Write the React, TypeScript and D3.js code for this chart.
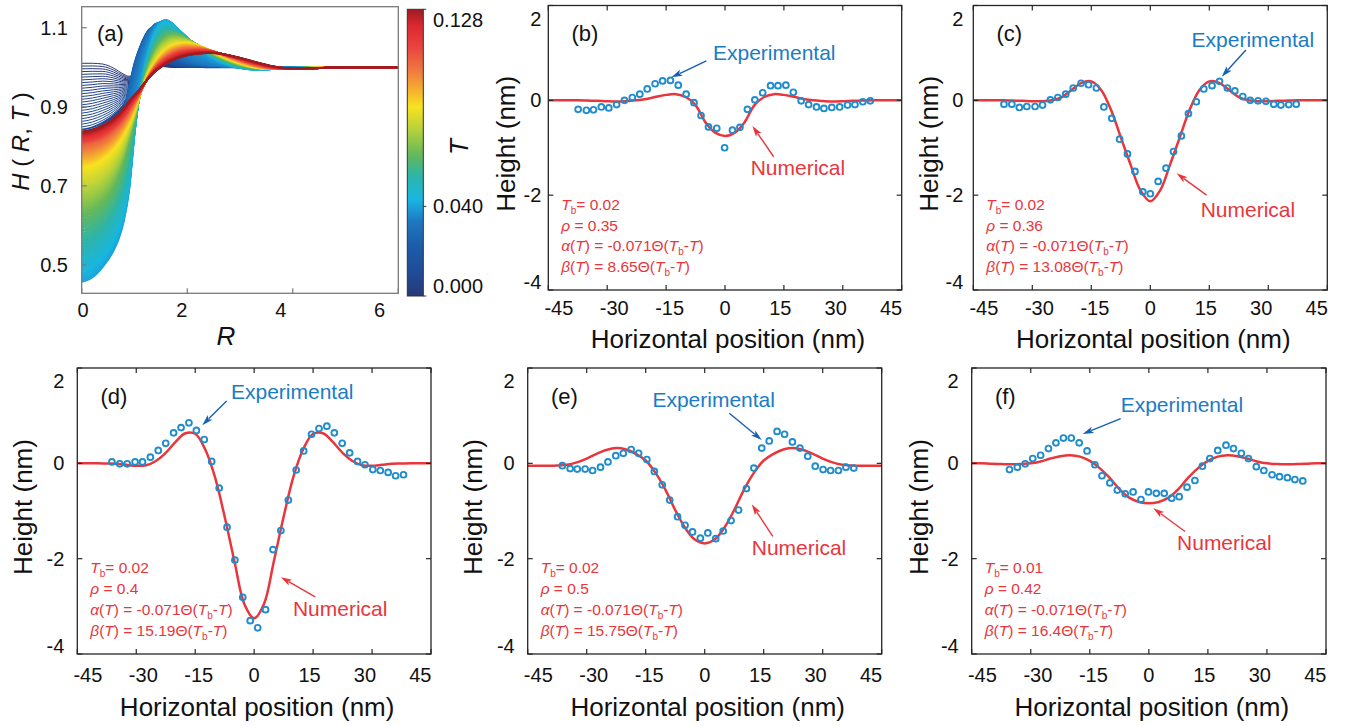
import React from 'react';
import * as d3 from 'd3';

const FONT = "'Liberation Sans', Arial, Helvetica, sans-serif";
const RED = '#e8363c';
const BLUE_PT = '#1f8dcd';
const BLUE_TXT = '#1a7cc4';
const BLUE_ARROW = '#1660b0';

// ---------------- Panel (a): H(R,T) family ----------------
const R_GRID = [0, 0.2, 0.4, 0.6, 0.7, 0.8, 0.9, 1.0, 1.1, 1.2, 1.3, 1.4, 1.5, 1.6, 1.7, 1.8, 2.0, 2.2, 2.4, 2.6, 2.8, 3.0, 3.3, 3.6, 4.0, 4.5, 5.0, 6.0];
const KEY_T = [0, 0.012, 0.025, 0.033, 0.04, 0.063, 0.085, 0.105, 0.128];
const H_T000 = [1.010, 1.010, 1.008, 0.998, 0.990, 0.982, 0.977, 0.985, 0.995, 1.002, 1.004, 1.003, 1.002, 1.001, 1.000, 1.000, 1.000, 1.000, 1.000, 1.000, 1.000, 1.000, 1.000, 1.000, 1.000, 1.000, 1.000, 1.000];
const H_T012 = [0.842, 0.848, 0.860, 0.878, 0.890, 0.905, 0.925, 0.955, 0.990, 1.020, 1.035, 1.035, 1.025, 1.015, 1.008, 1.004, 1.002, 1.001, 1.000, 1.000, 1.000, 1.000, 1.000, 1.000, 1.000, 1.000, 1.000, 1.000];
const H_T025 = [0.700, 0.710, 0.740, 0.790, 0.830, 0.885, 0.950, 1.010, 1.050, 1.080, 1.098, 1.100, 1.085, 1.060, 1.040, 1.022, 1.010, 1.006, 1.004, 1.003, 1.002, 1.001, 1.000, 1.000, 1.000, 1.000, 1.000, 1.000];
const H_T033 = [0.560, 0.575, 0.620, 0.700, 0.760, 0.830, 0.900, 0.965, 1.020, 1.062, 1.092, 1.110, 1.113, 1.100, 1.075, 1.050, 1.022, 1.010, 1.005, 1.003, 1.001, 1.000, 0.999, 0.999, 1.000, 1.000, 1.000, 1.000];
const H_T040 = [0.457, 0.468, 0.495, 0.535, 0.565, 0.612, 0.690, 0.830, 0.935, 1.005, 1.058, 1.095, 1.115, 1.120, 1.113, 1.100, 1.075, 1.050, 1.030, 1.015, 1.005, 0.998, 0.994, 0.995, 0.998, 1.000, 1.000, 1.000];
const H_T063 = [0.630, 0.638, 0.660, 0.700, 0.730, 0.770, 0.820, 0.870, 0.925, 0.975, 1.015, 1.045, 1.065, 1.077, 1.082, 1.082, 1.072, 1.056, 1.040, 1.026, 1.015, 1.006, 0.998, 0.995, 0.997, 1.000, 1.000, 1.000];
const H_T085 = [0.750, 0.755, 0.770, 0.795, 0.812, 0.835, 0.860, 0.893, 0.930, 0.962, 0.990, 1.012, 1.030, 1.043, 1.052, 1.057, 1.060, 1.055, 1.045, 1.033, 1.021, 1.011, 1.000, 0.995, 0.996, 0.999, 1.000, 1.000];
const H_T105 = [0.805, 0.810, 0.820, 0.840, 0.853, 0.870, 0.890, 0.913, 0.935, 0.960, 0.982, 1.000, 1.014, 1.025, 1.033, 1.039, 1.045, 1.046, 1.043, 1.036, 1.027, 1.018, 1.006, 0.998, 0.995, 0.998, 1.000, 1.000];
const H_T128 = [0.837, 0.842, 0.853, 0.870, 0.882, 0.897, 0.915, 0.930, 0.945, 0.962, 0.977, 0.990, 1.000, 1.009, 1.016, 1.022, 1.030, 1.034, 1.036, 1.035, 1.030, 1.024, 1.013, 1.003, 0.997, 0.998, 1.000, 1.000];
const KEY_H = [H_T000, H_T012, H_T025, H_T033, H_T040, H_T063, H_T085, H_T105, H_T128];

const A_XTICKS = [0, 2, 4, 6];
const A_YTICKS = [1.1, 0.9, 0.7, 0.5];
const CB_TICKS = [0, 0.04, 0.128];
const CB_LABELS = ['0.000', '0.040', '0.128'];
const T_MAX = 0.128;

const CMAP_POS = [0.0, 0.08, 0.18, 0.26, 0.30, 0.34, 0.42, 0.49, 0.58, 0.66, 0.73, 0.79, 0.87, 0.94, 1.0];
const CMAP_COL = ['#283878', '#1f4b98', '#1c5eaa', '#1d78c0', '#1b9ad6', '#19b6e0', '#2db5a8', '#62b85c', '#b6d13c', '#f8e21f', '#f5a533', '#ef7740', '#e9423e', '#dc2a30', '#9e1c22'];
const cmap = d3.scaleLinear<string>().domain(CMAP_POS).range(CMAP_COL).interpolate(d3.interpolateRgb).clamp(true);

// ---------------- Panels (b)-(f) ----------------
const X_TICKS = [-45, -30, -15, 0, 15, 30, 45];
const Y_TICKS = [2, 0, -2, -4];
const NUM_X = [-45, -42.5, -40, -37.5, -35, -32.5, -30, -27.5, -25, -22.5, -20, -17.5, -15, -12.5, -10, -7.5, -5, -2.5, 0, 2.5, 5, 7.5, 10, 12.5, 15, 17.5, 20, 22.5, 25, 27.5, 30, 32.5, 35, 37.5, 40, 42.5, 45];

const EXP_X_B = [-37.4, -35.3, -33.5, -31.5, -29.6, -27.6, -25.6, -23.6, -21.7, -19.8, -17.8, -15.9, -13.9, -11.9, -9.9, -7.9, -6.1, -4.2, -2.1, -0.1, 1.9, 3.8, 5.7, 7.6, 9.6, 11.6, 13.5, 15.5, 17.4, 19.4, 21.3, 23.3, 25.2, 27.2, 29.2, 31.2, 33.1, 35.1, 37.0];
const EXP_Y_B = [-0.19, -0.21, -0.20, -0.14, -0.16, -0.09, 0.0, 0.06, 0.13, 0.24, 0.35, 0.41, 0.42, 0.32, 0.13, -0.05, -0.32, -0.56, -0.59, -1.0, -0.63, -0.57, -0.19, 0.01, 0.16, 0.31, 0.31, 0.32, 0.17, -0.01, -0.09, -0.14, -0.17, -0.15, -0.14, -0.10, -0.09, -0.03, -0.01];
const NUM_Y_B = [0, 0, 0, 0, -0.005, -0.01, -0.02, -0.025, -0.015, 0.0, 0.03, 0.075, 0.115, 0.13, 0.07, -0.1, -0.46, -0.68, -0.75, -0.68, -0.46, -0.1, 0.07, 0.13, 0.115, 0.075, 0.03, 0.0, -0.015, -0.025, -0.02, -0.01, -0.005, 0, 0, 0, 0];

const EXP_X_C = [-37.2, -35.2, -33.3, -31.4, -29.3, -27.4, -25.4, -23.5, -21.5, -19.6, -17.6, -15.7, -13.7, -11.8, -9.8, -7.8, -5.8, -3.9, -1.9, 0.0, 2.0, 4.0, 5.9, 7.9, 9.7, 11.7, 13.6, 15.7, 17.6, 19.6, 21.5, 23.5, 25.4, 27.4, 29.4, 31.4, 33.2, 35.2, 37.1];
const EXP_Y_C = [-0.08, -0.08, -0.15, -0.13, -0.13, -0.10, 0.01, 0.06, 0.13, 0.26, 0.36, 0.33, 0.26, -0.14, -0.38, -0.82, -1.13, -1.50, -1.93, -1.97, -1.71, -1.43, -1.08, -0.75, -0.28, -0.03, 0.24, 0.31, 0.40, 0.26, 0.20, 0.08, 0.0, -0.01, -0.02, -0.08, -0.10, -0.09, -0.08];
const NUM_Y_C = [0, 0, 0, 0, -0.005, -0.01, -0.02, -0.02, 0.0, 0.07, 0.22, 0.37, 0.4, 0.22, -0.2, -0.78, -1.36, -1.9, -2.13, -1.9, -1.36, -0.78, -0.2, 0.22, 0.4, 0.37, 0.22, 0.07, 0.0, -0.02, -0.02, -0.01, -0.005, 0, 0, 0, 0];

const EXP_X_D = [-36.2, -34.2, -32.3, -30.3, -28.4, -26.4, -24.4, -22.5, -20.5, -18.6, -16.6, -14.7, -12.7, -10.8, -8.9, -6.9, -4.9, -2.9, -1.0, 0.9, 2.9, 4.8, 6.8, 8.7, 10.7, 12.6, 14.6, 16.5, 18.5, 20.4, 22.4, 24.3, 26.3, 28.2, 30.2, 32.1, 34.1, 36.0, 38.0];
const EXP_Y_D = [0.03, -0.01, -0.01, 0.03, 0.03, 0.13, 0.27, 0.42, 0.64, 0.75, 0.85, 0.69, 0.50, 0.04, -0.52, -1.34, -2.03, -2.81, -3.30, -3.45, -3.07, -1.81, -1.41, -0.77, -0.14, 0.26, 0.61, 0.73, 0.78, 0.64, 0.42, 0.22, 0.04, -0.03, -0.13, -0.15, -0.19, -0.26, -0.24];
const NUM_Y_D = [0, 0, 0, -0.005, -0.01, -0.03, -0.05, -0.04, 0.05, 0.22, 0.45, 0.63, 0.62, 0.3, -0.28, -1.12, -2.06, -2.95, -3.25, -2.95, -2.06, -1.12, -0.28, 0.3, 0.62, 0.63, 0.45, 0.22, 0.05, -0.04, -0.05, -0.03, -0.01, -0.005, 0, 0, 0];

const EXP_X_E = [-36.2, -34.2, -32.4, -30.4, -28.5, -26.5, -24.6, -22.6, -20.7, -18.7, -16.8, -14.7, -12.8, -10.8, -8.9, -6.9, -5.0, -3.1, -1.1, 0.8, 2.8, 4.7, 6.7, 8.6, 10.6, 12.5, 14.5, 16.4, 18.4, 20.3, 22.3, 24.2, 26.2, 28.1, 30.1, 32.0, 34.0, 35.9, 37.9];
const EXP_Y_E = [-0.05, -0.11, -0.12, -0.12, -0.15, -0.08, 0.03, 0.16, 0.21, 0.29, 0.21, 0.08, -0.17, -0.45, -0.77, -1.12, -1.30, -1.44, -1.57, -1.46, -1.58, -1.42, -1.20, -0.98, -0.53, -0.10, 0.32, 0.47, 0.67, 0.61, 0.45, 0.32, 0.15, -0.06, -0.13, -0.15, -0.15, -0.08, -0.10];
const NUM_Y_E = [-0.05, -0.05, -0.05, -0.045, -0.03, 0.02, 0.1, 0.2, 0.28, 0.32, 0.29, 0.2, 0.06, -0.2, -0.55, -0.98, -1.35, -1.6, -1.68, -1.6, -1.35, -0.98, -0.55, -0.2, 0.06, 0.2, 0.29, 0.32, 0.28, 0.2, 0.1, 0.02, -0.03, -0.045, -0.05, -0.05, -0.05];

const EXP_X_F = [-35.4, -33.4, -31.4, -29.5, -27.5, -25.5, -23.6, -21.7, -19.7, -17.7, -15.7, -13.7, -11.9, -9.9, -8.0, -6.0, -4.0, -2.0, -0.1, 1.9, 3.9, 5.8, 7.7, 9.7, 11.7, 13.6, 15.5, 17.5, 19.6, 21.5, 23.5, 25.3, 27.3, 29.2, 31.3, 33.2, 35.2, 37.1, 39.1];
const EXP_Y_F = [-0.13, -0.08, -0.01, 0.10, 0.17, 0.31, 0.43, 0.53, 0.53, 0.43, 0.26, -0.03, -0.26, -0.41, -0.56, -0.64, -0.60, -0.76, -0.60, -0.63, -0.63, -0.73, -0.70, -0.50, -0.36, -0.06, 0.10, 0.27, 0.38, 0.31, 0.21, 0.10, -0.07, -0.15, -0.24, -0.28, -0.30, -0.34, -0.37];
const NUM_Y_F = [0, 0, -0.01, -0.015, -0.02, -0.015, 0.0, 0.04, 0.1, 0.15, 0.17, 0.14, 0.05, -0.1, -0.3, -0.54, -0.72, -0.81, -0.84, -0.81, -0.72, -0.54, -0.3, -0.1, 0.05, 0.14, 0.17, 0.15, 0.1, 0.04, 0.0, -0.015, -0.02, -0.015, -0.01, 0, 0];

const TB_VALUES = ['0.02', '0.02', '0.02', '0.02', '0.01'];
const RHO_VALUES = ['0.35', '0.36', '0.4', '0.5', '0.42'];
const ALPHA_VALUES = ['-0.071', '-0.071', '-0.071', '-0.071', '-0.071'];
const BETA_VALUES = ['8.65', '13.08', '15.19', '15.75', '16.4'];
const PANEL_LABELS = ['(b)', '(c)', '(d)', '(e)', '(f)'];

type Ann = { expText: [number, number]; expArrow: [number, number, number, number]; numText: [number, number]; numArrow: [number, number, number, number] };
const ANNOTATIONS: Ann[] = [
  { expText: [-3.06, 0.85], expArrow: [-4.74, 0.83, -13.65, 0.485], numText: [6.54, -1.58], numArrow: [12.4, -1.19, 6.98, -0.54] },
  { expText: [10.5, 1.13], expArrow: [24.3, 1.06, 18.15, 0.5], numText: [12.8, -2.45], numArrow: [14.3, -2.0, 6.7, -1.54] },
  { expText: [-5.9, 1.36], expArrow: [-7.0, 1.31, -13.2, 0.80], numText: [9.87, -3.2], numArrow: [15.5, -2.8, 6.8, -2.39] },
  { expText: [-13.3, 1.19], expArrow: [6.26, 1.05, 14.5, 0.49], numText: [11.96, -1.92], numArrow: [17.3, -1.53, 11.96, -0.86] },
  { expText: [-7.16, 1.08], expArrow: [-7.16, 0.94, -16.8, 0.615], numText: [7.16, -1.82], numArrow: [9.2, -1.43, 1.13, -0.94] },
];

type Layout = { x0: number; x1: number; y0: number; y1: number; tickGap: number; tickBase: number; xLabelBase: number; yLabelX: number };
const LAYOUTS: Layout[] = [
  { x0: 548.3, x1: 901.7, y0: 5.5, y1: 290, tickGap: 7, tickBase: 315, xLabelBase: 348, yLabelX: 506.3 },
  { x0: 973.3, x1: 1327.3, y0: 5.5, y1: 290, tickGap: 10, tickBase: 315, xLabelBase: 348, yLabelX: 929 },
  { x0: 77.3, x1: 431, y0: 368, y1: 654, tickGap: 13, tickBase: 682, xLabelBase: 716, yLabelX: 22.5 },
  { x0: 527.7, x1: 881.7, y0: 368, y1: 654, tickGap: 13, tickBase: 682, xLabelBase: 716, yLabelX: 472.5 },
  { x0: 971.7, x1: 1326, y0: 368, y1: 654, tickGap: 13, tickBase: 682, xLabelBase: 716, yLabelX: 919 },
];

function Arrow({ x1, y1, x2, y2, color }: { x1: number; y1: number; x2: number; y2: number; color: string }) {
  const ang = Math.atan2(y2 - y1, x2 - x1);
  const L = 11, w = 3.3;
  const bx = x2 - L * Math.cos(ang), by = y2 - L * Math.sin(ang);
  const px = -Math.sin(ang) * w, py = Math.cos(ang) * w;
  return (
    <g>
      <line x1={x1} y1={y1} x2={bx + 2 * Math.cos(ang)} y2={by + 2 * Math.sin(ang)} stroke={color} strokeWidth={1.4} />
      <polygon points={`${x2},${y2} ${bx + px},${by + py} ${bx + 2.5 * Math.cos(ang)},${by + 2.5 * Math.sin(ang)} ${bx - px},${by - py}`} fill={color} />
    </g>
  );
}

function Panel({ i }: { i: number }) {
  const L = LAYOUTS[i];
  const expX = [EXP_X_B, EXP_X_C, EXP_X_D, EXP_X_E, EXP_X_F][i];
  const expY = [EXP_Y_B, EXP_Y_C, EXP_Y_D, EXP_Y_E, EXP_Y_F][i];
  const numY = [NUM_Y_B, NUM_Y_C, NUM_Y_D, NUM_Y_E, NUM_Y_F][i];
  const ann = ANNOTATIONS[i];
  const x = d3.scaleLinear().domain([-45, 45]).range([L.x0, L.x1]);
  const y = d3.scaleLinear().domain([-4, 2]).range([L.y1, L.y0]);
  const cx = (L.x0 + L.x1) / 2;
  const line = d3.line<number>().x((_, k) => x(NUM_X[k])).y(d => y(d)).curve(d3.curveCatmullRom.alpha(0.5));
  const clipId = `clip${i}`;
  const px = x(-41.7);
  const py0 = y(-2.31);
  const lh = 20.7;
  const fs = 15.5;
  const sub = 10;
  return (
    <g fontFamily={FONT}>
      <defs>
        <clipPath id={clipId}><rect x={L.x0} y={L.y0} width={L.x1 - L.x0} height={L.y1 - L.y0} /></clipPath>
      </defs>
      <path d={line(numY) || ''} fill="none" stroke={RED} strokeWidth={2.5} clipPath={`url(#${clipId})`} />
      {expX.map((v, k) => (
        <circle key={k} cx={x(v)} cy={y(expY[k])} r={2.9} fill="none" stroke={BLUE_PT} strokeWidth={1.9} />
      ))}
      <rect x={L.x0} y={L.y0} width={L.x1 - L.x0} height={L.y1 - L.y0} fill="none" stroke="#262626" strokeWidth={1.3} />
      {X_TICKS.map(v => (
        <g key={'xt' + v}>
          <line x1={x(v)} x2={x(v)} y1={L.y1} y2={L.y1 - 5} stroke="#262626" strokeWidth={1.2} />
          <line x1={x(v)} x2={x(v)} y1={L.y0} y2={L.y0 + 5} stroke="#262626" strokeWidth={1.2} />
          <text x={cx + 0.94 * (x(v) - cx)} y={L.tickBase} textAnchor="middle" fontSize={20} fill="#111">{v < 0 ? '-' + Math.abs(v) : String(v)}</text>
        </g>
      ))}
      {Y_TICKS.map(v => (
        <g key={'yt' + v}>
          <line x1={L.x0} x2={L.x0 + 5} y1={y(v)} y2={y(v)} stroke="#262626" strokeWidth={1.2} />
          <line x1={L.x1} x2={L.x1 - 5} y1={y(v)} y2={y(v)} stroke="#262626" strokeWidth={1.2} />
          <text x={L.x0 - L.tickGap} y={y(v) + 7 + (v === 2 ? 13 : v === -4 ? -8 : 0)} textAnchor="end" fontSize={20} fill="#111">{v < 0 ? '-' + Math.abs(v) : String(v)}</text>
        </g>
      ))}
      <text x={cx + 3} y={L.xLabelBase} textAnchor="middle" fontSize={26} fill="#111">Horizontal position (nm)</text>
      <text transform={`translate(${L.yLabelX + 9},${(L.y0 + L.y1) / 2 - 4}) rotate(-90)`} textAnchor="middle" fontSize={26} fill="#111">Height (nm)</text>
      <text x={x(-39.1)} y={y(1.25)} fontSize={22} fill="#111">{PANEL_LABELS[i]}</text>
      <text x={x(ann.expText[0])} y={y(ann.expText[1])} fontSize={21} fill={BLUE_TXT}>Experimental</text>
      <Arrow x1={x(ann.expArrow[0])} y1={y(ann.expArrow[1])} x2={x(ann.expArrow[2])} y2={y(ann.expArrow[3])} color={BLUE_ARROW} />
      <text x={x(ann.numText[0])} y={y(ann.numText[1])} fontSize={21} fill={RED}>Numerical</text>
      <Arrow x1={x(ann.numArrow[0])} y1={y(ann.numArrow[1])} x2={x(ann.numArrow[2])} y2={y(ann.numArrow[3])} color={RED} />
      <g fill={RED} fontSize={fs}>
        <text x={px} y={py0}>
          <tspan fontStyle="italic">T</tspan>
          <tspan fontSize={sub} dy={4}>b</tspan>
          <tspan dy={-4}>{'= ' + TB_VALUES[i]}</tspan>
        </text>
        <text x={px} y={py0 + lh}>
          <tspan fontStyle="italic">ρ</tspan>
          <tspan>{' = ' + RHO_VALUES[i]}</tspan>
        </text>
        <text x={px} y={py0 + 2 * lh}>
          <tspan fontStyle="italic">α</tspan>
          <tspan>(</tspan>
          <tspan fontStyle="italic">T</tspan>
          <tspan>{') = ' + ALPHA_VALUES[i] + 'Θ('}</tspan>
          <tspan fontStyle="italic">T</tspan>
          <tspan fontSize={sub} dy={4}>b</tspan>
          <tspan dy={-4}>-</tspan>
          <tspan fontStyle="italic">T</tspan>
          <tspan>)</tspan>
        </text>
        <text x={px} y={py0 + 3 * lh}>
          <tspan fontStyle="italic">β</tspan>
          <tspan>(</tspan>
          <tspan fontStyle="italic">T</tspan>
          <tspan>{') = ' + BETA_VALUES[i] + 'Θ('}</tspan>
          <tspan fontStyle="italic">T</tspan>
          <tspan fontSize={sub} dy={4}>b</tspan>
          <tspan dy={-4}>-</tspan>
          <tspan fontStyle="italic">T</tspan>
          <tspan>)</tspan>
        </text>
      </g>
    </g>
  );
}

function PanelA() {
  const x0 = 81.7, x1 = 398.3, y0 = 6.7, y1 = 293.3;
  const x = d3.scaleLinear().domain([0, 6]).range([x0, x1]);
  const y = d3.scaleLinear().domain([0.4284, 1.1531]).range([y1, y0]);
  const line = d3.line<number>().x((_, k) => x(R_GRID[k])).y(d => y(d)).curve(d3.curveMonotoneX);
  // curves rendered at the T steps of the colour bar
  const curves: { t: number; h: number[] }[] = [];
  const steps = d3.range(0, 257).map(k => k * 0.0005);
  for (const t of steps) {
    let j = 0;
    while (j < KEY_T.length - 2 && t > KEY_T[j + 1]) j++;
    const f = Math.max(0, Math.min(1, (t - KEY_T[j]) / (KEY_T[j + 1] - KEY_T[j])));
    const a = KEY_H[j], b = KEY_H[j + 1];
    curves.push({ t, h: a.map((v, k) => v + (b[k] - v) * f) });
  }
  const cbX = 407.3, cbW = 16, cbY0 = 9.3, cbY1 = 296;
  const cbScale = d3.scaleLinear().domain([0, T_MAX]).range([cbY1, cbY0]);
  const gradStops = d3.range(0, 51).map(k => k / 50);
  return (
    <g fontFamily={FONT}>
      <defs>
        <clipPath id="clipA"><rect x={x0} y={y0} width={x1 - x0} height={y1 - y0} /></clipPath>
        <linearGradient id="cbGrad" x1="0" y1="1" x2="0" y2="0">
          {gradStops.map(s => <stop key={s} offset={s} stopColor={cmap(s)} />)}
        </linearGradient>
      </defs>
      <g clipPath="url(#clipA)">
        {curves.map(c => (
          <path key={c.t} d={line(c.h) || ''} fill="none" stroke={cmap(c.t / T_MAX)} strokeWidth={c.t < 0.012 ? 1.0 : 1.8} />
        ))}
      </g>
      <rect x={x0} y={y0} width={x1 - x0} height={y1 - y0} fill="none" stroke="#7a7a7a" strokeWidth={1.3} />
      {A_XTICKS.map(v => (
        <g key={'ax' + v}>
          <line x1={x(v)} x2={x(v)} y1={y1} y2={y1 - 5} stroke="#7a7a7a" strokeWidth={1.2} />
          <text x={83 + 0.937 * (x(v) - x0)} y={317} textAnchor="middle" fontSize={20} fill="#111">{v}</text>
        </g>
      ))}
      {A_YTICKS.map(v => (
        <g key={'ay' + v}>
          <line x1={x0} x2={x0 + 5} y1={y(v)} y2={y(v)} stroke="#7a7a7a" strokeWidth={1.2} />
          <text x={68} y={y(v) + 7} textAnchor="end" fontSize={20} fill="#111">{v.toFixed(1)}</text>
        </g>
      ))}
      <text x={97} y={41} fontSize={22} fill="#111">(a)</text>
      <text x={226} y={345} textAnchor="middle" fontSize={26} fontStyle="italic" fill="#111">R</text>
      <text transform="translate(29,141.5) rotate(-90)" textAnchor="middle" fontSize={24} fill="#111">
        <tspan fontStyle="italic">H</tspan>
        <tspan>{' ( '}</tspan>
        <tspan fontStyle="italic">R</tspan>
        <tspan>{', '}</tspan>
        <tspan fontStyle="italic">T</tspan>
        <tspan>{' )'}</tspan>
      </text>
      <rect x={cbX} y={cbY0} width={cbW} height={cbY1 - cbY0} fill="url(#cbGrad)" stroke="#333" strokeWidth={1} />
      {CB_TICKS.map((v, k) => (
        <g key={'cb' + v}>
          <line x1={cbX + cbW} x2={cbX + cbW + 3} y1={cbScale(v)} y2={cbScale(v)} stroke="#333" strokeWidth={1} />
          <text x={433} y={cbScale(v) + 7 + (k === 2 ? 11 : k === 0 ? -10 : 0)} fontSize={20} fill="#111">{CB_LABELS[k]}</text>
        </g>
      ))}
      <text transform="translate(468,147) rotate(-90)" textAnchor="middle" fontSize={26} fontStyle="italic" fill="#111">T</text>
    </g>
  );
}

export default function App() {
  return (
    <svg width={1349} height={726} style={{ position: 'absolute', left: 0, top: 0, background: '#fff' }}>
      <rect x={0} y={0} width={1349} height={726} fill="#fff" />
      <PanelA />
      {[0, 1, 2, 3, 4].map(i => <Panel key={i} i={i} />)}
    </svg>
  );
}
